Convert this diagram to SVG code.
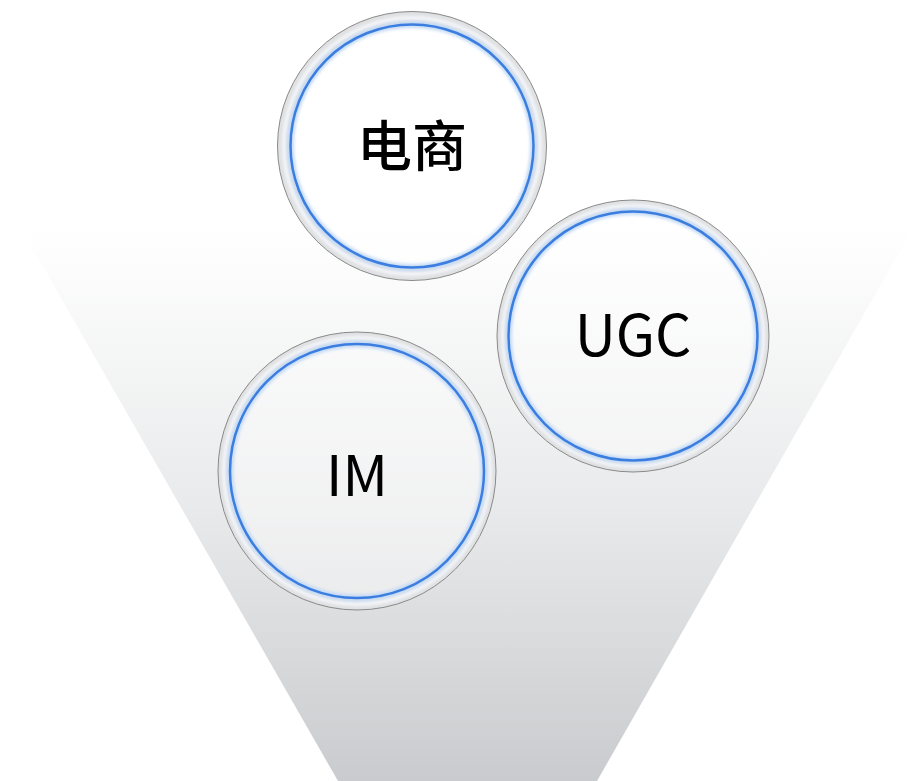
<svg xmlns="http://www.w3.org/2000/svg" width="907" height="781" viewBox="0 0 907 781">
  <defs>
    <linearGradient id="funnelGrad" x1="0" y1="230" x2="0" y2="781" gradientUnits="userSpaceOnUse">
      <stop offset="0" stop-color="#ffffff"/>
      <stop offset="0.5" stop-color="#e9eaeb"/>
      <stop offset="1" stop-color="#c9cbce"/>
    </linearGradient>
    <filter id="soft" x="-10%" y="-10%" width="120%" height="120%">
      <feGaussianBlur stdDeviation="1.8"/>
    </filter>
    <style>
      .ring { fill: none; stroke: #dfe0e2; }
      .band { fill: none; stroke: #f4f6f9; stroke-width: 4; }
      .edge { fill: none; stroke: #8a8a8a; stroke-width: 1; }
      .halo { fill: none; stroke: #c6dbf5; stroke-width: 7; }
      .blue { fill: none; stroke: #3b7ee0; stroke-width: 2.5; }
      .inner { fill: #ffffff; fill-opacity: 0.4; }
      .label { font-family: "Noto Sans CJK SC", "Noto Sans", sans-serif; font-weight: 400; fill: #000000; text-anchor: middle; }
      .cjk { font-weight: 500; }
    </style>
  </defs>
  <rect width="907" height="781" fill="#ffffff"/>
  <g id="funnel">
    <polygon points="22,230 912,230 597,781 338,781" fill="url(#funnelGrad)"/>
  </g>
  <g id="connectors"></g>
  <g id="node-dianshang">
    <circle class="inner" cx="412" cy="146" r="122"/>
    <circle class="ring" cx="412" cy="146" r="128" stroke-width="13"/>
    <circle class="band" cx="412" cy="146" r="128" filter="url(#soft)"/>
    <circle class="halo" cx="412" cy="146" r="121.5" filter="url(#soft)"/>
    <circle class="blue" cx="412" cy="146" r="121.5"/>
    <circle class="edge" cx="412" cy="146" r="134.5"/>
    <text class="label cjk" x="412" y="166" font-size="55">电商</text>
  </g>
  <g id="node-ugc">
    <circle class="inner" cx="633" cy="336" r="125"/>
    <circle class="ring" cx="633" cy="336" r="130.25" stroke-width="11.5"/>
    <circle class="band" cx="633" cy="336" r="130" filter="url(#soft)"/>
    <circle class="halo" cx="633" cy="336" r="124.5" filter="url(#soft)"/>
    <circle class="blue" cx="633" cy="336" r="124.5"/>
    <circle class="edge" cx="633" cy="336" r="136"/>
    <text class="label" x="633" y="356" font-size="57">UGC</text>
  </g>
  <g id="node-im">
    <circle class="inner" cx="357" cy="471" r="127.5"/>
    <circle class="ring" cx="357" cy="471" r="133" stroke-width="12"/>
    <circle class="band" cx="357" cy="471" r="133" filter="url(#soft)"/>
    <circle class="halo" cx="357" cy="471" r="127" filter="url(#soft)"/>
    <circle class="blue" cx="357" cy="471" r="127"/>
    <circle class="edge" cx="357" cy="471" r="139"/>
    <text class="label" x="357" y="496" font-size="56">IM</text>
  </g>
</svg>
